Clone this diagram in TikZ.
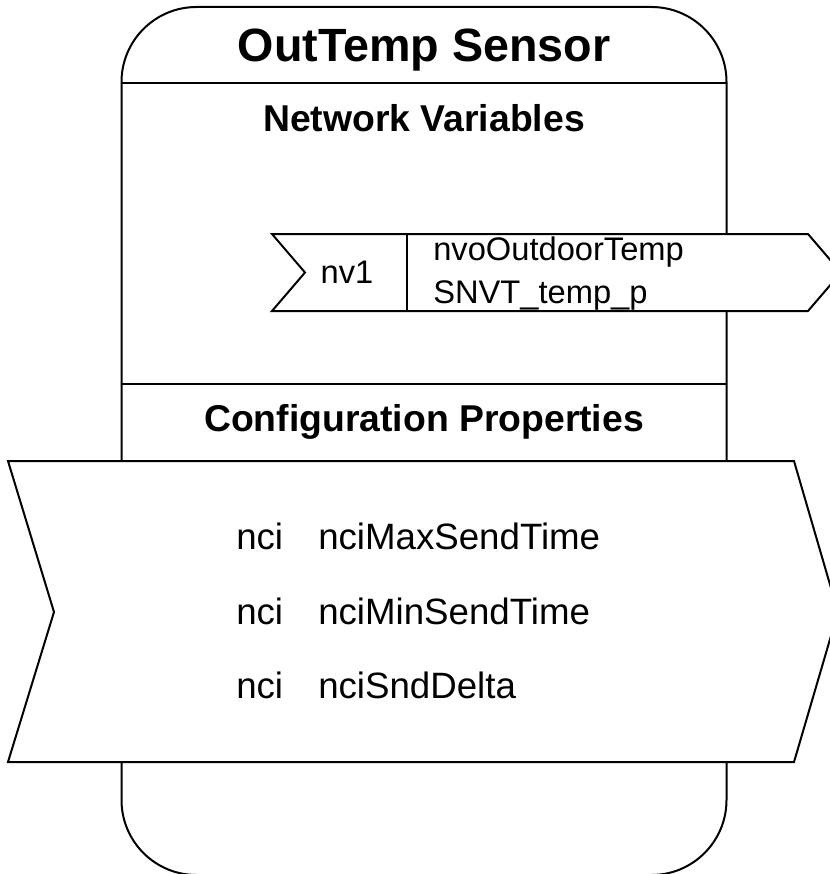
\documentclass[tikz,border=0pt]{standalone}
\usepackage{fontspec}
\setmainfont{Liberation Sans}

\begin{document}
\begin{tikzpicture}[x=0.75pt,y=-0.75pt,
  box/.style={line width=1.5pt},
  bar/.style={line width=2pt},
  heading/.style={font=\bfseries\fontsize{28}{33}\selectfont,anchor=base},
  lbl/.style={font=\fontsize{24.5}{29}\selectfont,anchor=base west,inner sep=0pt},
  cplbl/.style={font=\fontsize{27.5}{33}\selectfont,anchor=base west,inner sep=0pt}]
\useasboundingbox (0,0) rectangle (829,874);

% block outline and title
\draw[box,rounded corners=56.25pt] (121.5,7) rectangle (726.5,875);
\node[font=\bfseries\fontsize{35}{42}\selectfont,anchor=base] (title) at (424,62) {OutTemp Sensor};
\draw[bar] (121.5,83) -- (726.5,83);
\node[heading] (nvhead) at (424,131) {Network Variables};

% network variable
\draw[box,fill=white] (272,234) -- (305,272.5) -- (272,311) -- (808,311) -- (841,272.5) -- (808,234) -- cycle;
\draw[box] (407,234) -- (407,311);
\node[font=\fontsize{24.5}{29}\selectfont] (nvidx) at (347,272) {nv1};
\node[lbl] (nvname) at (433,260) {nvoOutdoorTemp};
\node[lbl] (nvtype) at (433,303) {SNVT\_temp\_p};

% configuration properties
\draw[bar] (121.5,384) -- (726.5,384);
\node[heading] (cphead) at (424,431) {Configuration Properties};
\draw[box,fill=white] (8,461) -- (54,612) -- (8,762) -- (794,762) -- (838,612) -- (794,461) -- cycle;
\node[cplbl] (cpa) at (236,549) {nci};
\node[cplbl] (cpb) at (236,624) {nci};
\node[cplbl] (cpc) at (236,698) {nci};
\node[cplbl] (maxsend) at (318,549) {nciMaxSendTime};
\node[cplbl] (minsend) at (318,624) {nciMinSendTime};
\node[cplbl] (snddelta) at (318,698) {nciSndDelta};
\end{tikzpicture}
\end{document}
